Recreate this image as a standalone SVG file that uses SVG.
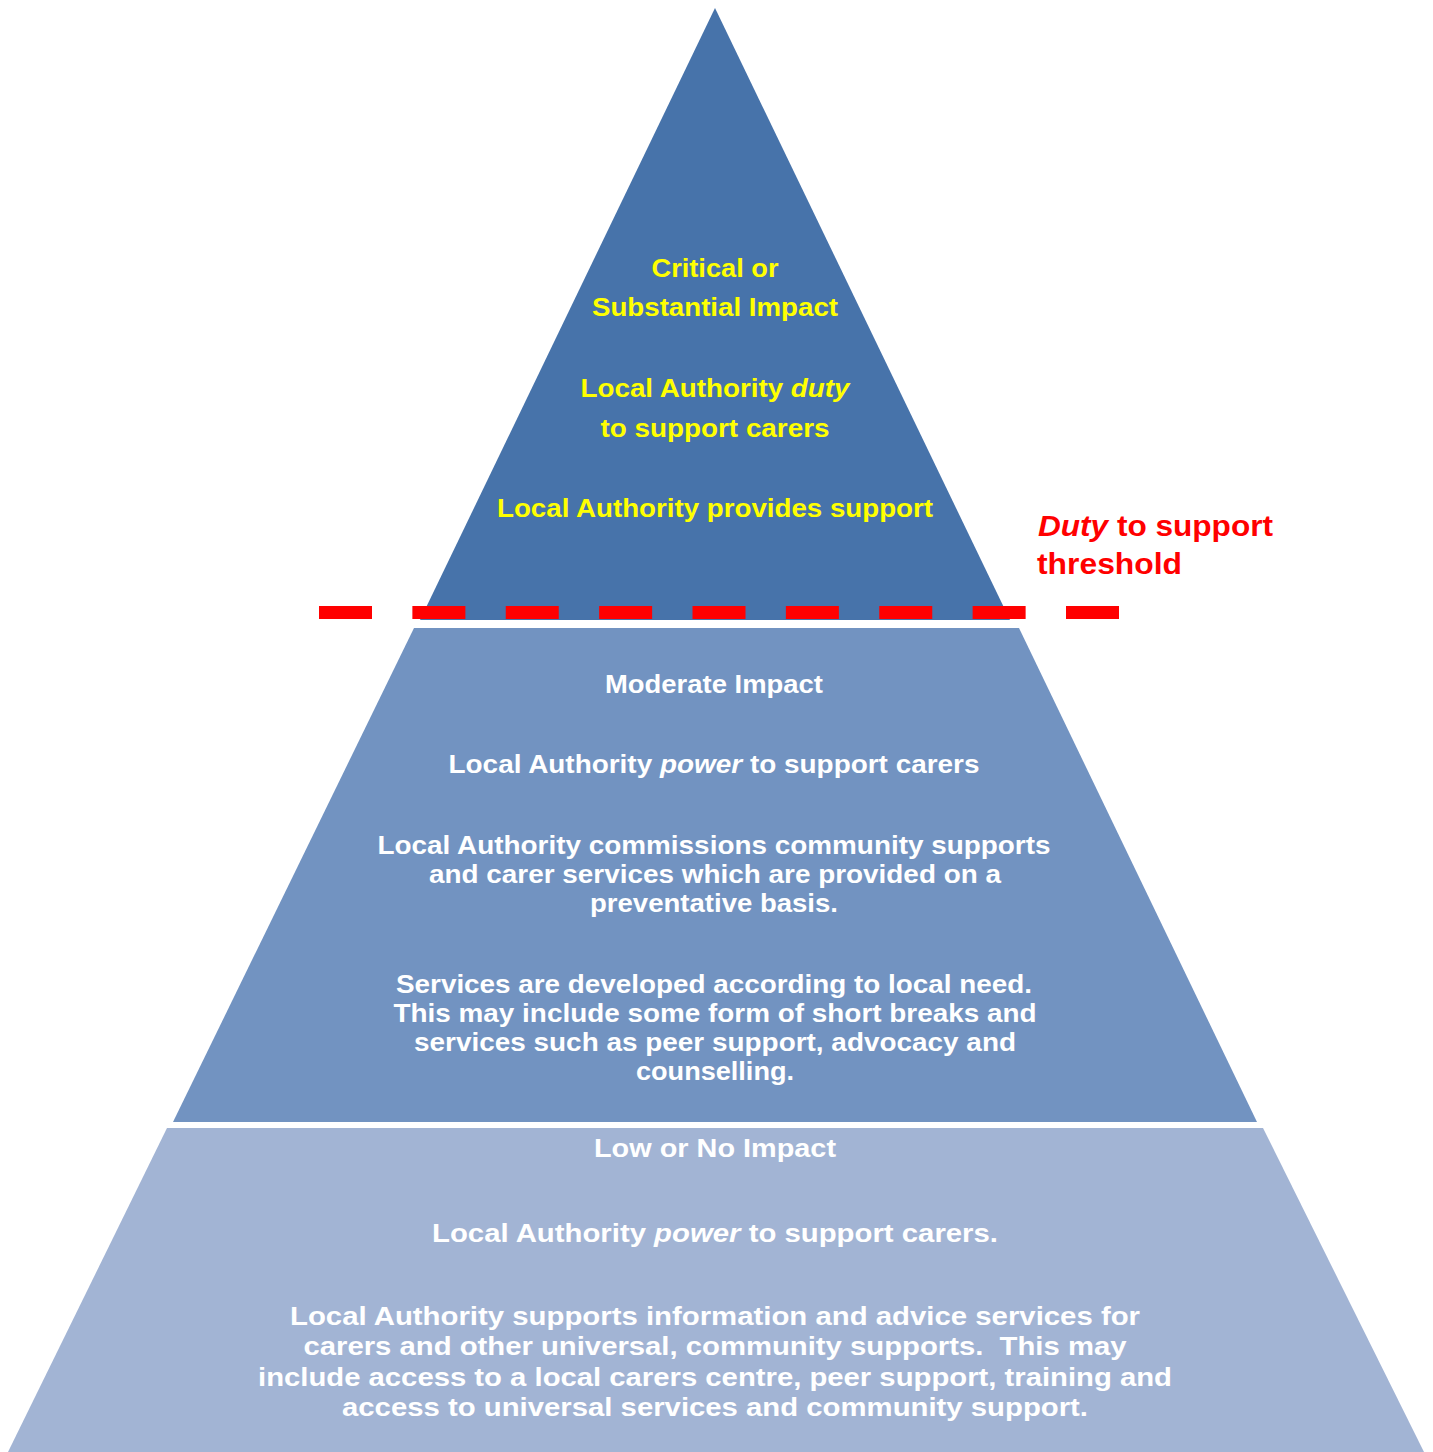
<svg xmlns="http://www.w3.org/2000/svg" width="1433" height="1452" viewBox="0 0 1433 1452">
<style>
text{font-family:"Liberation Sans",Arial,sans-serif;font-weight:bold;font-size:26px;text-anchor:middle}
.y{fill:#FFFF00}
.w{fill:#FFFFFF}
.r{fill:#FF0000;font-size:30px;text-anchor:start}
.i{font-style:italic}
</style>
<rect width="1433" height="1452" fill="#FFFFFF"/>
<g id="tier-top">
<polygon points="715,8 1010,620 420,620" fill="#4773AA"/>
<text class="y" x="715" y="277" textLength="127" lengthAdjust="spacingAndGlyphs">Critical or</text>
<text class="y" x="715" y="316" textLength="246" lengthAdjust="spacingAndGlyphs">Substantial Impact</text>
<text class="y" x="715" y="397" textLength="269" lengthAdjust="spacingAndGlyphs">Local Authority <tspan class="i">duty</tspan></text>
<text class="y" x="715" y="437" textLength="229" lengthAdjust="spacingAndGlyphs">to support carers</text>
<text class="y" x="715" y="517" textLength="436" lengthAdjust="spacingAndGlyphs">Local Authority provides support</text>
</g>
<g id="tier-middle">
<polygon points="414,628 1019,628 1257,1122 173,1122" fill="#7293C1"/>
<text class="w" x="714" y="693" textLength="218" lengthAdjust="spacingAndGlyphs">Moderate Impact</text>
<text class="w" x="714" y="773" textLength="531" lengthAdjust="spacingAndGlyphs">Local Authority <tspan class="i">power</tspan> to support carers</text>
<text class="w" x="714" y="854" textLength="673" lengthAdjust="spacingAndGlyphs">Local Authority commissions community supports</text>
<text class="w" x="715" y="883" textLength="572" lengthAdjust="spacingAndGlyphs">and carer services which are provided on a</text>
<text class="w" x="714" y="912" textLength="248" lengthAdjust="spacingAndGlyphs">preventative basis.</text>
<text class="w" x="714" y="993" textLength="636" lengthAdjust="spacingAndGlyphs">Services are developed according to local need.</text>
<text class="w" x="715" y="1022" textLength="643" lengthAdjust="spacingAndGlyphs">This may include some form of short breaks and</text>
<text class="w" x="715" y="1051" textLength="602" lengthAdjust="spacingAndGlyphs">services such as peer support, advocacy and</text>
<text class="w" x="715" y="1080" textLength="158" lengthAdjust="spacingAndGlyphs">counselling.</text>
</g>
<g id="tier-bottom">
<polygon points="167,1128 1263,1128 1424,1452 8,1452" fill="#A2B4D4"/>
<text class="w" x="715" y="1157" textLength="242" lengthAdjust="spacingAndGlyphs">Low or No Impact</text>
<text class="w" x="715" y="1242" textLength="566" lengthAdjust="spacingAndGlyphs">Local Authority <tspan class="i">power</tspan> to support carers.</text>
<text class="w" x="715" y="1325" textLength="850" lengthAdjust="spacingAndGlyphs">Local Authority supports information and advice services for</text>
<text class="w" x="715" y="1355" textLength="823" lengthAdjust="spacingAndGlyphs">carers and other universal, community supports.&#160; This may</text>
<text class="w" x="715" y="1386" textLength="914" lengthAdjust="spacingAndGlyphs">include access to a local carers centre, peer support, training and</text>
<text class="w" x="715" y="1416" textLength="746" lengthAdjust="spacingAndGlyphs">access to universal services and community support.</text>
</g>
<g id="threshold">
<line x1="319" y1="612.5" x2="1119" y2="612.5" stroke="#FF0000" stroke-width="13" stroke-dasharray="53 40.375"/>
<text class="r" x="1038" y="536" textLength="235" lengthAdjust="spacingAndGlyphs"><tspan class="i">Duty</tspan> to support</text>
<text class="r" x="1037" y="574" textLength="145" lengthAdjust="spacingAndGlyphs">threshold</text>
</g>
</svg>
